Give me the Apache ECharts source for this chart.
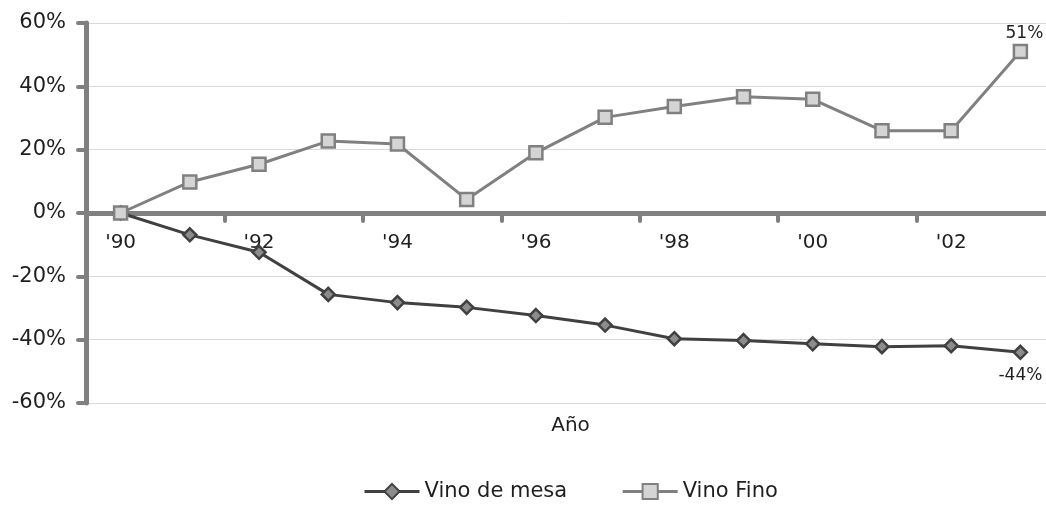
<!DOCTYPE html>
<html>
<head>
<meta charset="utf-8">
<script src="https://cdn.jsdelivr.net/npm/echarts@6/dist/echarts.min.js"></script>
<style>
  html, body { margin: 0; padding: 0; background: #ffffff; }
  #chart { width: 1046px; height: 506px; }
</style>
</head>
<body>
<div id="chart"></div>
<script>
// Years on the horizontal axis
const years = ["'90", "'91", "'92", "'93", "'94", "'95", "'96", "'97", "'98", "'99", "'00", "'01", "'02", "'03"];

// Change since 1990, in percent
const vinoDeMesa = [0, -6.9, -12.4, -25.7, -28.3, -29.8, -32.4, -35.4, -39.7, -40.3, -41.3, -42.2, -41.9, -44];
const vinoFino = [0, 9.8, 15.4, 22.7, 21.8, 4.3, 19.0, 30.2, 33.6, 36.7, 35.9, 26.0, 26.0, 51];

// Value axis range
const yMin = -60;
const yMax = 60;
const yStep = 20;

const FONT = 'DejaVu Sans';
const TEXT = '#1f1f1f';
const AXIS = '#808080';

// Plot area
const GRID_TOP = 23;
const GRID_HEIGHT = 380;
// the category axis sits on the 0% line, half-way up the plot
const X_AXIS_OFFSET = -GRID_HEIGHT * (0 - yMin) / (yMax - yMin);

const chart = echarts.init(document.getElementById('chart'), null, { renderer: 'canvas' });

const lastIdx = years.length - 1;

chart.setOption({
  animation: false,
  backgroundColor: '#ffffff',
  grid: {
    left: 86, top: GRID_TOP, width: 969, height: GRID_HEIGHT,
    containLabel: false,
    outerBoundsMode: 'none'
  },
  legend: {
    left: 358,
    top: 476,
    itemWidth: 55,
    itemHeight: 19,
    itemGap: 54,
    lineStyle: { width: 3 },
    textStyle: { fontFamily: FONT, fontSize: 21, color: TEXT },
    data: ['Vino de mesa', 'Vino Fino']
  },
  xAxis: {
    type: 'category',
    data: years,
    boundaryGap: true,
    position: 'bottom',
    offset: X_AXIS_OFFSET,
    name: 'Año',
    nameLocation: 'middle',
    nameGap: 203,
    nameTextStyle: { fontFamily: FONT, fontSize: 20, color: TEXT },
    axisLine: { onZero: false, lineStyle: { color: AXIS, width: 5 } },
    axisTick: { show: true, interval: 1, length: 8, lineStyle: { color: AXIS, width: 4, cap: 'round' } },
    axisLabel: { interval: 1, margin: 20, fontFamily: FONT, fontSize: 20, color: TEXT },
    splitLine: { show: false }
  },
  yAxis: {
    type: 'value',
    min: yMin,
    max: yMax,
    interval: yStep,
    axisLine: { show: true, lineStyle: { color: AXIS, width: 5, cap: 'round' } },
    axisTick: { show: true, length: 8, lineStyle: { color: AXIS, width: 4, cap: 'round' } },
    axisLabel: { margin: 20, fontFamily: FONT, fontSize: 21, color: TEXT, formatter: '{value}%' },
    splitLine: { show: true, lineStyle: { color: '#d9d9d9', width: 1 } }
  },
  series: [
    {
      name: 'Vino de mesa',
      type: 'line',
      data: vinoDeMesa,
      symbol: 'diamond',
      symbolSize: 13,
      lineStyle: { color: '#404040', width: 3 },
      itemStyle: { color: '#8c8c8c', borderColor: '#404040', borderWidth: 2.5 },
      label: {
        show: true,
        position: 'bottom',
        distance: 7,
        fontFamily: FONT,
        fontSize: 17,
        color: TEXT,
        formatter: p => (p.dataIndex === lastIdx ? Math.round(p.value) + '%' : '')
      }
    },
    {
      name: 'Vino Fino',
      type: 'line',
      data: vinoFino,
      symbol: 'rect',
      symbolSize: 13,
      lineStyle: { color: '#808080', width: 3 },
      itemStyle: { color: '#d4d4d4', borderColor: '#808080', borderWidth: 2.5 },
      label: {
        show: true,
        position: 'top',
        distance: 2,
        offset: [4, 0],
        fontFamily: FONT,
        fontSize: 17,
        color: TEXT,
        formatter: p => (p.dataIndex === lastIdx ? Math.round(p.value) + '%' : '')
      }
    }
  ]
});
</script>
</body>
</html>
